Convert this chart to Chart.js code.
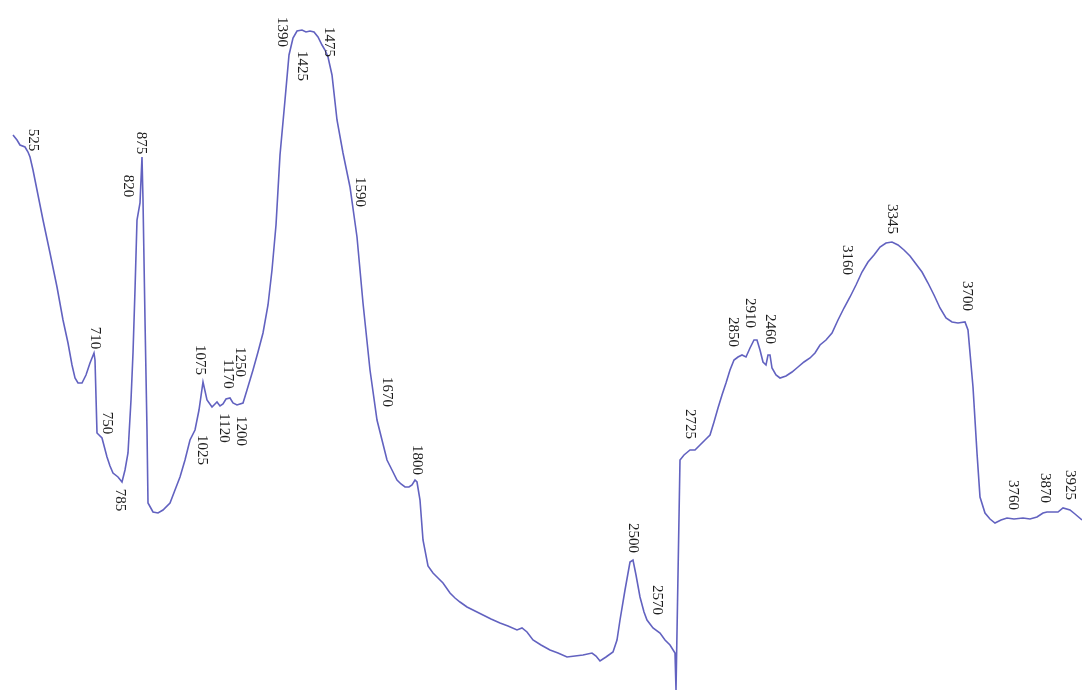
<!DOCTYPE html>
<html>
<head>
<meta charset="utf-8">
<script src="https://cdn.jsdelivr.net/npm/chart.js@4.4.1/dist/chart.umd.min.js"></script>
<style>
html,body{margin:0;padding:0;background:#fff;}
#wrap{width:1082px;height:693px;position:relative;}
</style>
</head>
<body>
<div id="wrap"><canvas id="c"></canvas></div>
<script>
// Trace position (arbitrary horizontal units) and signal depth (inverted vertical units)
const positions = [13,17,20,25,28,30,33,38,43,50,57,63,68,72,75,78,82,86,90,94,95,97,102,107,110,113,118,122,125,128,131,133,135,137,140,142,143,145,147,148,153,158,163,170,175,180,185,190,195,199,203,207,212,217,220,223,226,230,233,237,243,247,253,258,263,268,272,276,280,285,289,293,297,302,306,310,314,318,322,325,328,332,337,343,350,357,363,370,377,382,387,392,397,401,405,409,412,415,417,420,423,428,433,438,443,450,455,460,467,475,483,491,500,508,517,522,527,533,541,550,558,567,575,583,592,596,600,606,613,617,620,625,630,633,636,640,644,647,653,660,665,670,675,676,680,684,690,695,700,705,710,714,718,722,726,730,734,738,742,746,750,754,757,760,763,766,768,770,772,776,780,786,792,798,804,810,815,820,826,832,838,844,850,856,862,868,874,880,886,892,898,904,910,916,922,928,934,940,946,952,958,965,968,973,977,980,985,990,995,1001,1007,1014,1023,1030,1037,1043,1047,1052,1058,1063,1070,1075,1082];
const depth = [135,140,145,147,152,157,170,195,220,253,287,320,343,365,378,383,383,375,363,353,360,433,438,457,466,473,477,482,470,453,400,353,290,220,203,157,200,320,430,503,512,513,510,503,490,477,460,440,430,410,382,400,407,402,406,404,399,398,403,405,403,390,370,352,333,305,270,225,155,100,55,38,31,30,32,31,32,37,45,50,57,75,120,153,187,237,303,370,420,440,460,470,480,484,487,487,485,480,482,500,540,566,573,578,583,593,598,602,607,611,615,619,623,626,630,628,632,640,645,650,653,657,656,655,653,656,661,657,652,640,620,590,562,560,575,597,612,620,628,633,640,645,653,690,460,455,450,450,445,440,435,422,408,395,383,370,360,357,355,357,348,340,340,350,362,365,355,355,368,375,378,376,372,367,362,358,353,345,340,333,320,308,297,285,272,262,255,247,243,242,245,250,256,264,272,283,295,308,318,322,323,322,330,387,453,497,513,519,523,520,518,519,518,519,517,513,512,512,512,508,510,514,520];

// Peak annotations (text, position, depth)
const peakLabels = ["525","820","875","710","750","785","1075","1025","1250","1170","1120","1200","1390","1425","1475","1590","1670","1800","2500","2570","2725","2850","2910","2460","3160","3345","3700","3760","3870","3925"];
const peakPos    = [33,128,141,95,107,120,200,202,240,228,224,241,282,302,329,360,387,417,633,657,690,733,750,770,847,892,967,1013,1045,1070];
const peakDepth  = [140,186,143,338,423,500,360,450,362,374,428,431,32,66,42,192,392,460,538,600,424,332,313,329,260,219,296,495,488,485];

const labelPlugin = {
  id: 'peakLabels',
  afterDatasetsDraw(chart) {
    const {ctx, scales:{x, y}} = chart;
    ctx.save();
    ctx.fillStyle = '#1e1e1e';
    ctx.font = '15px "Liberation Serif", "DejaVu Serif", serif';
    ctx.textAlign = 'center';
    ctx.textBaseline = 'middle';
    peakLabels.forEach((t, i) => {
      const px = x.getPixelForValue(peakPos[i]);
      const py = y.getPixelForValue(peakDepth[i]);
      ctx.save();
      ctx.translate(px, py);
      ctx.rotate(Math.PI / 2);
      ctx.fillText(t, 0, 0);
      ctx.restore();
    });
    ctx.restore();
  }
};

new Chart(document.getElementById('c'), {
  type: 'line',
  data: {
    datasets: [{
      data: positions.map((p, i) => ({x: p, y: depth[i]})),
      borderColor: 'rgb(98,98,192)',
      borderWidth: 1.6,
      pointRadius: 0,
      tension: 0,
      fill: false
    }]
  },
  options: {
    responsive: true,
    maintainAspectRatio: false,
    animation: false,
    layout: {padding: 0},
    plugins: {legend: {display: false}, tooltip: {enabled: false}},
    scales: {
      x: {type: 'linear', min: 0, max: 1082, display: false},
      y: {type: 'linear', min: 0, max: 693, reverse: true, display: false}
    }
  },
  plugins: [labelPlugin]
});
</script>
</body>
</html>
